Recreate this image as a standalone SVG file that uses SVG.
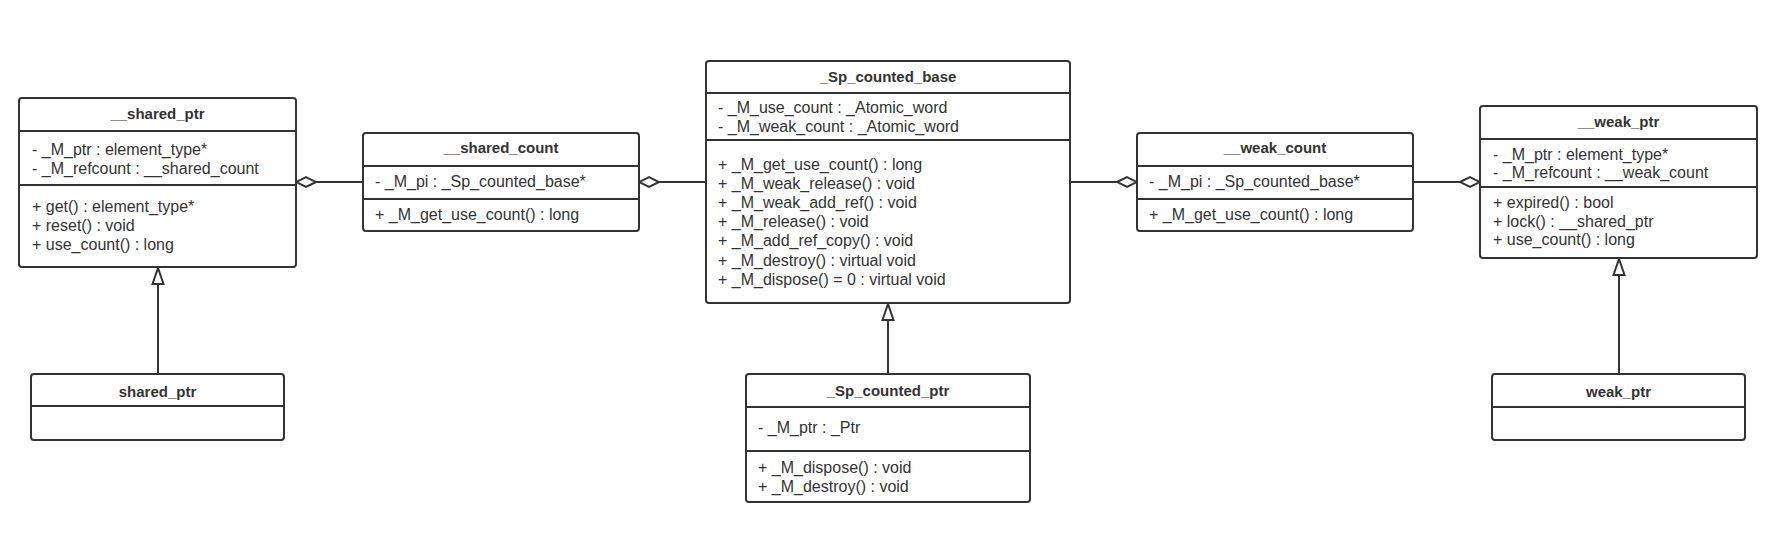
<svg xmlns="http://www.w3.org/2000/svg" width="1772" height="538" viewBox="0 0 1772 538">
<defs>
<style>
.box{fill:#fff;stroke:#333;stroke-width:2}
.div{stroke:#333;stroke-width:2}
.t{font-family:"Liberation Sans",Arial,sans-serif;font-size:15px;font-weight:bold;fill:#333;text-anchor:middle}
.m{font-family:"Liberation Sans",Arial,sans-serif;font-size:16px;fill:#333}
.c{stroke:#333;stroke-width:2;fill:none}
.agg{marker-end:url(#diamond)}
.gen{marker-end:url(#tri)}
</style>
<marker id="diamond" markerUnits="userSpaceOnUse" markerWidth="24" markerHeight="14" refX="21" refY="6" orient="auto" viewBox="-1 -1 24 14">
<path d="M1,6 L11,1 L21,6 L11,11 Z" fill="#fff" stroke="#333" stroke-width="2"/>
</marker>
<marker id="tri" markerUnits="userSpaceOnUse" markerWidth="20" markerHeight="16" refX="17" refY="7" orient="auto" viewBox="-1 -1 20 16">
<path d="M1,1.5 L17,7 L1,12.5 Z" fill="#fff" stroke="#333" stroke-width="2"/>
</marker>
</defs>
<rect width="1772" height="538" fill="#fff"/>
<g id="connectors">
<line class="c agg" x1="363" y1="182" x2="296" y2="182"/>
<line class="c agg" x1="706" y1="182" x2="639" y2="182"/>
<line class="c agg" x1="1070" y1="182" x2="1137" y2="182"/>
<line class="c agg" x1="1413" y1="182" x2="1480" y2="182"/>
<line class="c gen" x1="158" y1="374" x2="158" y2="268"/>
<line class="c gen" x1="888" y1="374" x2="888" y2="304"/>
<line class="c gen" x1="1619" y1="374" x2="1619" y2="259"/>
</g>
<g id="shared_ptr_base">
<rect class="box" x="19" y="98" width="277" height="169" rx="3"/>
<line class="div" x1="19" y1="131" x2="296" y2="131"/>
<line class="div" x1="19" y1="185" x2="296" y2="185"/>
<text class="t" x="157.5" y="119">__shared_ptr</text>
<text class="m" x="32" y="155">- _M_ptr : element_type*</text>
<text class="m" x="32" y="174">- _M_refcount : __shared_count</text>
<text class="m" x="32" y="212">+ get() : element_type*</text>
<text class="m" x="32" y="231">+ reset() : void</text>
<text class="m" x="32" y="250">+ use_count() : long</text>
</g>
<g id="shared_count">
<rect class="box" x="363" y="133" width="276" height="98" rx="3"/>
<line class="div" x1="363" y1="166" x2="639" y2="166"/>
<line class="div" x1="363" y1="199" x2="639" y2="199"/>
<text class="t" x="501" y="153">__shared_count</text>
<text class="m" x="375" y="187">- _M_pi : _Sp_counted_base*</text>
<text class="m" x="375" y="220">+ _M_get_use_count() : long</text>
</g>
<g id="sp_counted_base">
<rect class="box" x="706" y="61" width="364" height="242" rx="3"/>
<line class="div" x1="706" y1="93" x2="1070" y2="93"/>
<line class="div" x1="706" y1="140" x2="1070" y2="140"/>
<text class="t" x="888" y="82">_Sp_counted_base</text>
<text class="m" x="718" y="113">- _M_use_count : _Atomic_word</text>
<text class="m" x="718" y="132">- _M_weak_count : _Atomic_word</text>
<text class="m" x="718" y="170">+ _M_get_use_count() : long</text>
<text class="m" x="718" y="189">+ _M_weak_release() : void</text>
<text class="m" x="718" y="208">+ _M_weak_add_ref() : void</text>
<text class="m" x="718" y="227">+ _M_release() : void</text>
<text class="m" x="718" y="246">+ _M_add_ref_copy() : void</text>
<text class="m" x="718" y="266">+ _M_destroy() : virtual void</text>
<text class="m" x="718" y="285">+ _M_dispose() = 0 : virtual void</text>
</g>
<g id="weak_count">
<rect class="box" x="1137" y="133" width="276" height="98" rx="3"/>
<line class="div" x1="1137" y1="166" x2="1413" y2="166"/>
<line class="div" x1="1137" y1="199" x2="1413" y2="199"/>
<text class="t" x="1275" y="153">__weak_count</text>
<text class="m" x="1149" y="187">- _M_pi : _Sp_counted_base*</text>
<text class="m" x="1149" y="220">+ _M_get_use_count() : long</text>
</g>
<g id="weak_ptr_base">
<rect class="box" x="1480" y="106" width="277" height="152" rx="3"/>
<line class="div" x1="1480" y1="139" x2="1757" y2="139"/>
<line class="div" x1="1480" y1="187" x2="1757" y2="187"/>
<text class="t" x="1618.5" y="127">__weak_ptr</text>
<text class="m" x="1493" y="160">- _M_ptr : element_type*</text>
<text class="m" x="1493" y="178">- _M_refcount : __weak_count</text>
<text class="m" x="1493" y="208">+ expired() : bool</text>
<text class="m" x="1493" y="227">+ lock() : __shared_ptr</text>
<text class="m" x="1493" y="245">+ use_count() : long</text>
</g>
<g id="shared_ptr">
<rect class="box" x="31" y="374" width="253" height="66" rx="3"/>
<line class="div" x1="31" y1="406" x2="284" y2="406"/>
<text class="t" x="157.5" y="397">shared_ptr</text>
</g>
<g id="sp_counted_ptr">
<rect class="box" x="746" y="374" width="284" height="128" rx="3"/>
<line class="div" x1="746" y1="407" x2="1030" y2="407"/>
<line class="div" x1="746" y1="451" x2="1030" y2="451"/>
<text class="t" x="888" y="396">_Sp_counted_ptr</text>
<text class="m" x="758" y="433">- _M_ptr : _Ptr</text>
<text class="m" x="758" y="473">+ _M_dispose() : void</text>
<text class="m" x="758" y="492">+ _M_destroy() : void</text>
</g>
<g id="weak_ptr">
<rect class="box" x="1492" y="374" width="253" height="66" rx="3"/>
<line class="div" x1="1492" y1="407" x2="1745" y2="407"/>
<text class="t" x="1618.5" y="397">weak_ptr</text>
</g>
</svg>
